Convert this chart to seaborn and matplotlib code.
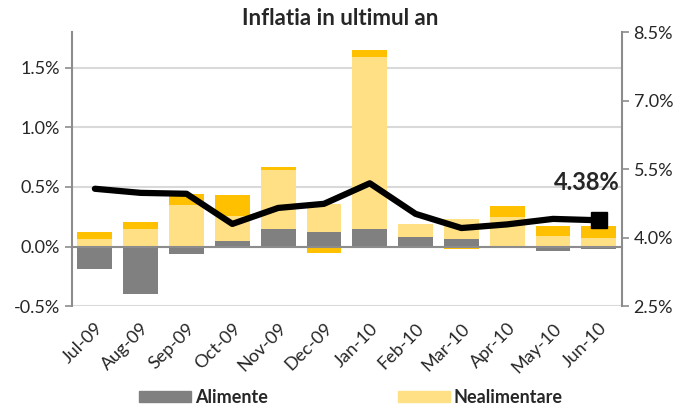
import numpy as np
import pandas as pd
import matplotlib.pyplot as plt
import matplotlib.ticker as mticker
from matplotlib.patches import Patch
import seaborn as sns

months = ["Jul-09", "Aug-09", "Sep-09", "Oct-09", "Nov-09", "Dec-09",
          "Jan-10", "Feb-10", "Mar-10", "Apr-10", "May-10", "Jun-10"]
# monthly contributions (percentage points)
alimente = [-0.19, -0.40, -0.06, 0.05, 0.15, 0.12, 0.15, 0.08, 0.06, 0.00, -0.04, -0.02]
nealimentare = [0.06, 0.15, 0.35, 0.21, 0.49, 0.24, 1.44, 0.11, 0.17, 0.25, 0.09, 0.07]
servicii = [0.06, 0.055, 0.09, 0.17, 0.025, -0.05, 0.06, 0.0, -0.02, 0.09, 0.08, 0.10]
# annual inflation (right axis)
inflatie_anuala = [5.07, 4.98, 4.96, 4.30, 4.65, 4.74, 5.19, 4.52, 4.21, 4.29, 4.41, 4.38]

c_alim = "#808080"
c_neal = "#FFE085"
c_serv = "#FFC000"
grid_c = "#D9D9D9"
axis_c = "#8C8C8C"

sns.set_theme(style="white")
plt.rcParams["font.family"] = ["Lato", "DejaVu Sans"]

fig = plt.figure(figsize=(6.81, 4.12), dpi=100)
ax = fig.add_axes([0.1057, 0.257, 0.8073, 0.665])

df = pd.DataFrame({"luna": months, "Alimente": alimente,
                   "Nealimentare": nealimentare, "Servicii": servicii})

pos_base = np.zeros(len(months))
neg_base = np.zeros(len(months))
for col, color in [("Alimente", c_alim), ("Nealimentare", c_neal), ("Servicii", c_serv)]:
    vals = df[col].to_numpy()
    bottom = np.where(vals >= 0, pos_base, neg_base)
    sns.barplot(data=df, x="luna", y=col, color=color, width=0.76,
                bottom=bottom, saturation=1, ax=ax, linewidth=0, zorder=2)
    pos_base = pos_base + np.clip(vals, 0, None)
    neg_base = neg_base + np.clip(vals, None, 0)

ax.set_xlim(-0.5, len(months) - 0.5)
ax.set_ylim(-0.5, 1.8)
ax.set_yticks([-0.5, 0.0, 0.5, 1.0, 1.5])
ax.yaxis.set_major_formatter(mticker.FuncFormatter(lambda v, p: f"{v:.1f}%"))
ax.grid(axis="y", color=grid_c, linewidth=1.5, zorder=0)
ax.set_axisbelow(True)
ax.set_xlabel("")
ax.set_ylabel("")

for s in ["top", "right"]:
    ax.spines[s].set_visible(False)
ax.spines["left"].set_color(axis_c)
ax.spines["left"].set_linewidth(1.5)
ax.spines["bottom"].set_position(("data", 0))
ax.spines["bottom"].set_color(axis_c)
ax.spines["bottom"].set_linewidth(1.5)

ax.set_xticks(np.arange(len(months)))
ax.set_xticklabels(months, rotation=45, ha="right", rotation_mode="anchor")
ax.set_xticks(np.arange(len(months) + 1) - 0.5, minor=True)
ax.tick_params(axis="x", which="major", length=0, pad=53, labelsize=13)
ax.tick_params(axis="x", which="minor", length=5, width=1.2, color=axis_c, direction="out")
ax.tick_params(axis="y", length=5, width=1.2, color=axis_c, direction="out", labelsize=13, left=True)

ax2 = ax.twinx()
sns.lineplot(x=np.arange(len(months)), y=inflatie_anuala, ax=ax2,
             color="black", linewidth=4.5, zorder=5)
ax2.plot(len(months) - 1, inflatie_anuala[-1], marker="s", markersize=11, color="black", zorder=6)
ax2.annotate(f"{inflatie_anuala[-1]:.2f}%", xy=(len(months) - 1, inflatie_anuala[-1]),
             xytext=(15, 27), textcoords="offset points", ha="right", va="center",
             fontsize=17, fontweight="bold")
ax2.set_ylim(2.5, 8.5)
ax2.set_yticks([2.5, 4.0, 5.5, 7.0, 8.5])
ax2.yaxis.set_major_formatter(mticker.FuncFormatter(lambda v, p: f"{v:.1f}%"))
ax2.set_xlim(-0.5, len(months) - 0.5)
for s in ["top", "left", "bottom"]:
    ax2.spines[s].set_visible(False)
ax2.spines["right"].set_color(axis_c)
ax2.spines["right"].set_linewidth(1.5)
ax2.tick_params(axis="y", length=5, width=1.2, color=axis_c, direction="out", labelsize=13, right=True)
ax2.grid(False)

fig.suptitle("Inflatia in ultimul an", x=0.5, y=0.98, fontsize=16, fontweight="bold")

handles = [Patch(color=c_alim, label="Alimente"), Patch(color=c_neal, label="Nealimentare")]
leg = fig.legend(handles=handles, loc="lower center", bbox_to_anchor=(0.515, -0.025),
                 ncol=2, frameon=False, handlelength=2.9, handleheight=0.55,
                 handletextpad=0.2, columnspacing=7.2, prop={"weight": "bold", "size": 13})

fig.savefig("out.png", dpi=100)
